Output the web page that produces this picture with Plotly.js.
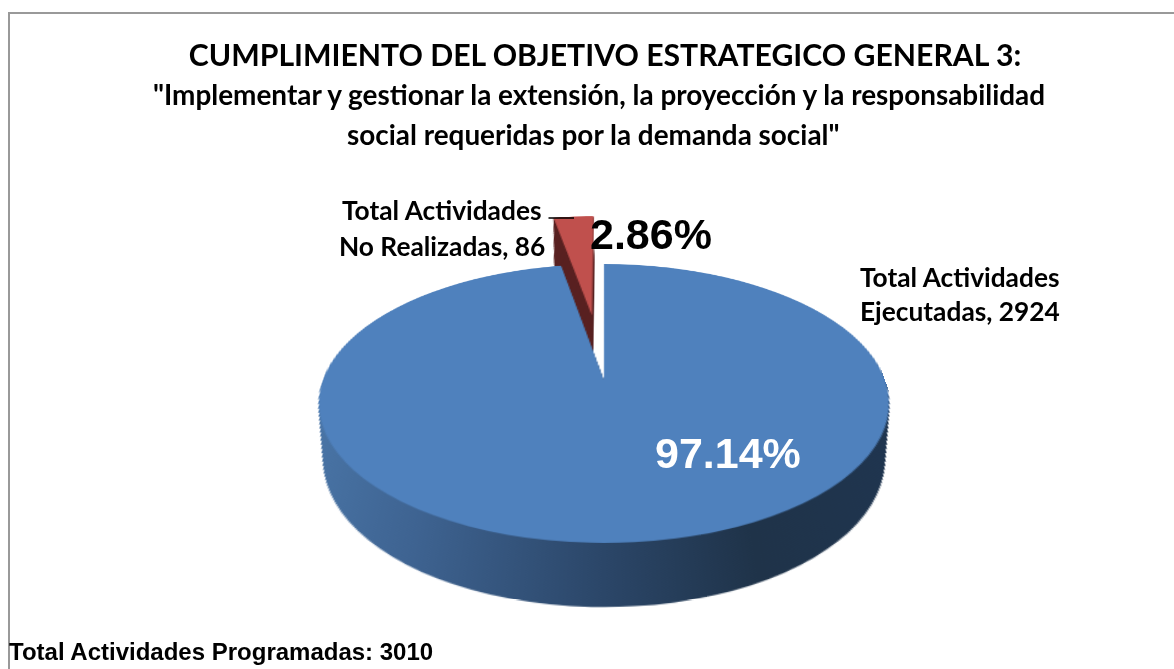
<!DOCTYPE html>
<html><head><meta charset="utf-8">
<script src="https://cdn.plot.ly/plotly-3.0.1.min.js"></script>
<style>
html,body{margin:0;padding:0;background:#fff;overflow:hidden}
#wrap{position:relative;width:1174px;height:669px;overflow:hidden}
#frame{position:absolute;left:8px;top:12px;width:1180px;height:680px;border:2px solid #999;box-sizing:border-box}
#chart{position:absolute;left:0;top:0;width:1174px;height:669px}
</style></head>
<body><div id="wrap"><div id="frame"></div><div id="chart"></div></div>
<script>
// Data
var categories = ["Total Actividades Ejecutadas", "Total Actividades No Realizadas"];
var values = [2924, 86];
var percentLabels = ["97.14%", "2.86%"];
var pullOut = [0, 0.52];
var topColors = ["#4f81bd", "#c0504d"];
var sideColors = ["#35557c", "#5a2120"];

// Geometry
var W = 1174, H = 669;
var R = 180, cx = 587, cy = 280;        // circle in the un-warped drawing
var apexX = 604, apexY = 380;           // where the pie centre lands on the page
var A = 281, B = 135.5, u = -0.1685;    // perspective terms
var layers = 70, depth = 0.387, shrink = 0.08;

function pieTrace(t, colors) {
  var r = R * (1 - shrink * t), c = cy + depth * R * t;
  var half = r * (1 + Math.max.apply(null, pullOut));
  return {
    type: "pie", labels: categories, values: values, sort: false, direction: "clockwise", rotation: 0,
    pull: pullOut, textinfo: "none", hoverinfo: "label+value+percent", showlegend: false,
    marker: {colors: colors, line: {width: 0}},
    domain: {x: [(cx - half) / W, (cx + half) / W], y: [1 - (c + half) / H, 1 - (c - half) / H]}
  };
}
var traces = [];
for (var i = layers; i >= 1; i--) traces.push(pieTrace(i / layers, sideColors));
traces.push(pieTrace(0, topColors));

function note(text, x, y, size, family, color) {
  return {text: text, xref: "paper", yref: "paper", x: x / W, y: 1 - y / H, xanchor: "center", yanchor: "middle",
    showarrow: false, align: "center", font: {family: family, size: size, color: color || "#000"}};
}
var LATO = "Lato, sans-serif", ARIAL = "Liberation Sans, Arial, sans-serif";
var annotations = [
  note("<b>\"Implementar y gestionar la extensión, la proyección y la responsabilidad</b>", 599, 94, 27.9, LATO),
  note("<b>social requeridas por la demanda social\"</b>", 594, 134, 27.9, LATO),
  note("<b>Total Actividades</b>", 442, 210, 26.3, LATO),
  note("<b>No Realizadas, 86</b>", 442, 246, 26.3, LATO),
  note("<b>Total Actividades</b>", 960, 277, 26.3, LATO),
  note("<b>Ejecutadas, 2924</b>", 960, 311, 26.3, LATO),
  note("<b>" + percentLabels[1] + "</b>", 651, 234, 43, ARIAL),
  note("<b>" + percentLabels[0] + "</b>", 728, 453, 43, ARIAL, "#ffffff"),
  note("<b>Total Actividades Programadas: 3010</b>", 221, 651, 24, ARIAL),
  {text: " ", xref: "paper", yref: "paper", x: 574 / W, y: 1 - 218 / H, ax: -27, ay: 0, showarrow: true,
   arrowhead: 0, arrowwidth: 1.5, arrowcolor: "#000", font: {size: 1}}
];

var layout = {
  width: W, height: H, margin: {l: 0, r: 0, t: 0, b: 0}, autosize: false,
  paper_bgcolor: "rgba(0,0,0,0)", plot_bgcolor: "rgba(0,0,0,0)", showlegend: false,
  title: {text: "<b>CUMPLIMIENTO DEL OBJETIVO ESTRATEGICO GENERAL 3:</b>", x: 605 / W, xanchor: "center",
          y: 1 - 55 / H, yanchor: "middle", font: {family: LATO, size: 30.2, color: "#000"}},
  annotations: annotations
};

Plotly.newPlot("chart", traces, layout, {displayModeBar: false, staticPlot: false}).then(function (gd) {
  var svg = gd.querySelector(".main-svg");
  // side gradient for the blue wall
  var ns = "http://www.w3.org/2000/svg";
  var g = document.createElementNS(ns, "linearGradient");
  g.setAttribute("id", "wall"); g.setAttribute("gradientUnits", "userSpaceOnUse");
  g.setAttribute("x1", cx - R); g.setAttribute("x2", cx + R); g.setAttribute("y1", 0); g.setAttribute("y2", 0);
  [[0, "#4a76a8"], [0.22, "#3e6391"], [0.5, "#2b4668"], [0.72, "#1f3349"], [1, "#1f3550"]].forEach(function (s) {
    var st = document.createElementNS(ns, "stop");
    st.setAttribute("offset", s[0]); st.setAttribute("stop-color", s[1]); g.appendChild(st);
  });
  var defs = svg.querySelector("defs") || svg.appendChild(document.createElementNS(ns, "defs"));
  defs.appendChild(g);
  var tr = svg.querySelectorAll(".pielayer .trace");
  for (var k = 0; k < tr.length - 1; k++) {
    var sl = tr[k].querySelectorAll(".slice path.surface");
    if (sl[0]) sl[0].style.fill = "url(#wall)";
  }
  // perspective of the pie drawing only (page texts stay on their own layer)
  var w0 = 1 - u * cy / R;
  var m = [A / R, 0, 0, 0,
           apexX * u / R, (apexY * u + B) / R, 0, u / R,
           0, 0, 1, 0,
           apexX * w0 - A * cx / R, apexY * w0 - B * cy / R, 0, w0];
  svg.style.transformOrigin = "0 0";
  svg.style.transform = "matrix3d(" + m.join(",") + ")";
});
</script></body></html>
